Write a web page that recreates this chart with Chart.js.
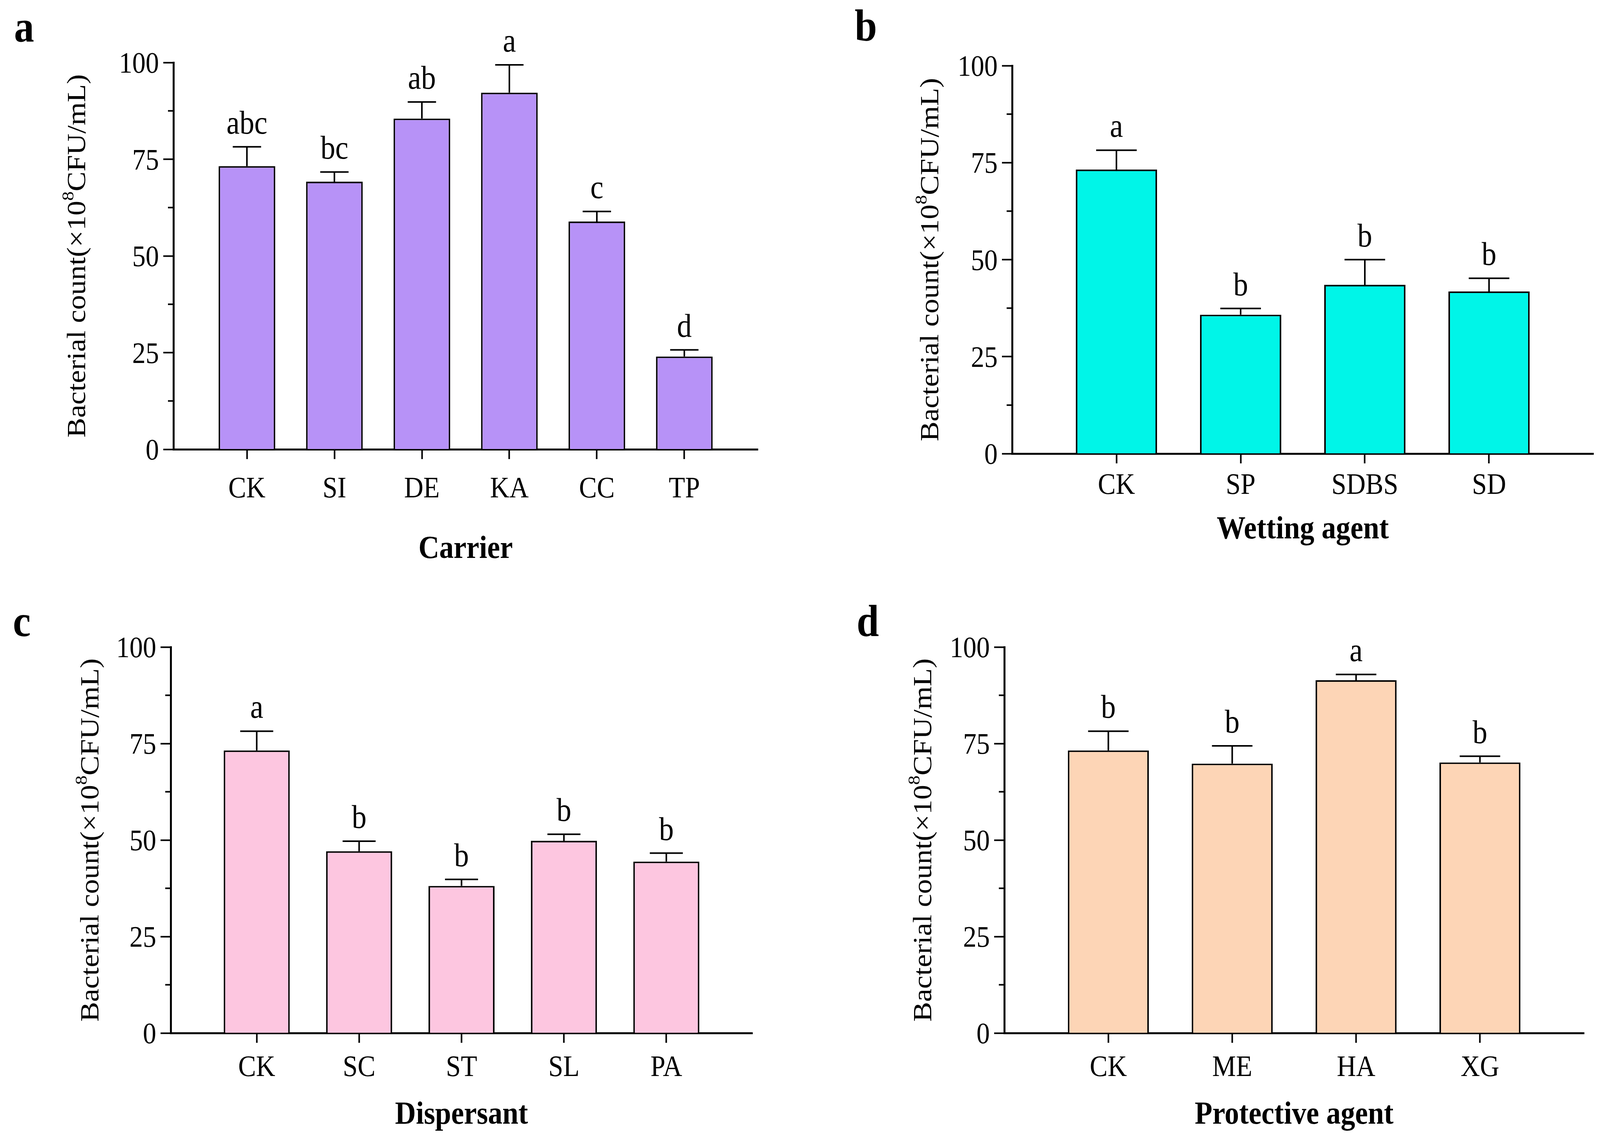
<!DOCTYPE html>
<html>
<head>
<meta charset="utf-8">
<title>Bacterial count by additive</title>
<script src="https://cdn.jsdelivr.net/npm/chart.js@4.4.1/dist/chart.umd.min.js"></script>
<style>
  html, body { margin: 0; padding: 0; background: #fff; overflow: hidden; }
  #wrap { position: relative; width: 4110px; height: 2928px; }
  .panel { position: absolute; width: 2055px; height: 1464px; }
  .panel canvas { display: block; }
</style>
</head>
<body>
<div id="wrap">
  <div class="panel" style="left:0;top:0"><canvas id="chartA" width="2055" height="1464"></canvas></div>
  <div class="panel" style="left:2055px;top:0"><canvas id="chartB" width="2055" height="1464"></canvas></div>
  <div class="panel" style="left:0;top:1464px"><canvas id="chartC" width="2055" height="1464"></canvas></div>
  <div class="panel" style="left:2055px;top:1464px"><canvas id="chartD" width="2055" height="1464"></canvas></div>
</div>
<script>
// Carrier
const carrierLabels = ['CK', 'SI', 'DE', 'KA', 'CC', 'TP'];
const carrierMeans = [73.2, 69.2, 85.5, 92.2, 58.9, 24.0];
const carrierErrors = [5.0, 2.5, 4.3, 7.2, 2.6, 1.7];
const carrierLetters = ['abc', 'bc', 'ab', 'a', 'c', 'd'];

// Wetting agent
const wettingLabels = ['CK', 'SP', 'SDBS', 'SD'];
const wettingMeans = [73.2, 35.8, 43.5, 41.8];
const wettingErrors = [5.0, 1.6, 6.5, 3.4];
const wettingLetters = ['a', 'b', 'b', 'b'];

// Dispersant
const dispersantLabels = ['CK', 'SC', 'ST', 'SL', 'PA'];
const dispersantMeans = [73.2, 47.1, 38.1, 49.8, 44.4];
const dispersantErrors = [5.0, 2.6, 1.7, 1.7, 2.2];
const dispersantLetters = ['a', 'b', 'b', 'b', 'b'];

// Protective agent
const protectiveLabels = ['CK', 'ME', 'HA', 'XG'];
const protectiveMeans = [73.2, 69.8, 91.4, 70.1];
const protectiveErrors = [5.0, 4.6, 1.5, 1.6];
const protectiveLetters = ['b', 'b', 'a', 'b'];

// y axis
const yTickLabels = [0, 25, 50, 75, 100];
const yMinorTicks = [12.5, 37.5, 62.5, 87.5];

const SERIF = '"Liberation Serif", "Times New Roman", serif';
const SQUEEZE = 0.9; // the original figure is a little narrower than tall
const SIDE = 0.84;   // empty room left of the first bar and right of the last, in bar slots

const panels = [
  { canvas: 'chartA', tag: 'a', tagPos: [36, 106], title: 'Carrier',
    labels: carrierLabels, means: carrierMeans, errors: carrierErrors, letters: carrierLetters,
    color: '#b792f7', area: [444, 160, 1940, 1150], barPct: 0.648,
    yTitleX: 197, labelY: 1273, titleY: 1428 },
  { canvas: 'chartB', tag: 'b', tagPos: [133, 104], title: 'Wetting agent',
    labels: wettingLabels, means: wettingMeans, errors: wettingErrors, letters: wettingLetters,
    color: '#00f5e8', area: [536, 168, 2024, 1161], barPct: 0.654,
    yTitleX: 326, labelY: 1264, titleY: 1378 },
  { canvas: 'chartC', tag: 'c', tagPos: [33, 164], title: 'Dispersant',
    labels: dispersantLabels, means: dispersantMeans, errors: dispersantErrors, letters: dispersantLetters,
    color: '#fdc6e0', area: [437, 192, 1926, 1180], barPct: 0.645,
    yTitleX: 231, labelY: 1290, titleY: 1412 },
  { canvas: 'chartD', tag: 'd', tagPos: [138, 164], title: 'Protective agent',
    labels: protectiveLabels, means: protectiveMeans, errors: protectiveErrors, letters: protectiveLetters,
    color: '#fdd5b6', area: [516, 192, 2000, 1180], barPct: 0.654,
    yTitleX: 308, labelY: 1290, titleY: 1412 }
];

// text helper, squeezed horizontally like the source figure
function drawText(ctx, text, x, y, font, align) {
  ctx.save();
  ctx.translate(x, y);
  ctx.scale(SQUEEZE, 1);
  ctx.font = font;
  ctx.textAlign = align;
  ctx.textBaseline = 'alphabetic';
  ctx.fillStyle = '#000';
  ctx.fillText(text, 0, 0);
  ctx.restore();
}

function drawYTitle(ctx, cx, cy) {
  const main = '76px ' + SERIF;
  const sup = '48px ' + SERIF;
  const part1 = 'Bacterial count(\u00d710';
  const part2 = '8';
  const part3 = 'CFU/mL)';
  ctx.save();
  ctx.translate(cx, cy);
  ctx.rotate(-Math.PI / 2);
  ctx.scale(1, SQUEEZE);
  ctx.fillStyle = '#000';
  ctx.textBaseline = 'alphabetic';
  ctx.textAlign = 'left';
  ctx.font = main;
  const w1 = ctx.measureText(part1).width;
  const w3 = ctx.measureText(part3).width;
  ctx.font = sup;
  const w2 = ctx.measureText(part2).width;
  let x = -(w1 + w2 + w3) / 2;
  const base = 23;
  ctx.font = main;
  ctx.fillText(part1, x, base);
  x += w1;
  ctx.font = sup;
  ctx.fillText(part2, x, base - 33);
  x += w2;
  ctx.font = main;
  ctx.fillText(part3, x, base);
  ctx.restore();
}

function makeOverlay(p) {
  return {
    id: 'overlay_' + p.tag,
    afterDatasetsDraw(chart) {
      const ctx = chart.ctx;
      const xs = chart.scales.x, ys = chart.scales.y;
      const bars = chart.getDatasetMeta(0).data;
      ctx.save();
      ctx.strokeStyle = '#000';
      ctx.lineWidth = 4;
      ctx.lineCap = 'butt';
      p.means.forEach((m, i) => {
        const px = xs.getPixelForValue(i);
        const y0 = ys.getPixelForValue(m);
        const y1 = ys.getPixelForValue(m + p.errors[i]);
        const cap = bars[i].width / 4;
        ctx.beginPath();
        ctx.moveTo(px, y0);
        ctx.lineTo(px, y1);
        ctx.moveTo(px - cap, y1);
        ctx.lineTo(px + cap, y1);
        ctx.stroke();
        drawText(ctx, p.letters[i], px, y1 - 34, '84px ' + SERIF, 'center');
      });
      ctx.restore();
    },
    afterDraw(chart) {
      const ctx = chart.ctx;
      const xs = chart.scales.x, ys = chart.scales.y;
      const left = chart.chartArea.left;
      // minor ticks on y
      ctx.save();
      ctx.strokeStyle = '#000';
      ctx.lineWidth = 4;
      yMinorTicks.forEach(v => {
        const py = ys.getPixelForValue(v);
        ctx.beginPath();
        ctx.moveTo(left - 14, py);
        ctx.lineTo(left, py);
        ctx.stroke();
      });
      ctx.restore();
      // y tick labels
      yTickLabels.forEach(v => {
        drawText(ctx, String(v), left - 37, ys.getPixelForValue(v) + 26, '76px ' + SERIF, 'right');
      });
      // category labels
      p.labels.forEach((lab, i) => {
        drawText(ctx, lab, xs.getPixelForValue(i), p.labelY, '76px ' + SERIF, 'center');
      });
      // x title
      const midX = (chart.chartArea.left + chart.chartArea.right) / 2;
      drawText(ctx, p.title, midX, p.titleY, 'bold 82px ' + SERIF, 'center');
      // y title
      drawYTitle(ctx, p.yTitleX, (chart.chartArea.top + chart.chartArea.bottom) / 2);
      // panel tag
      drawText(ctx, p.tag, p.tagPos[0], p.tagPos[1], 'bold 114px ' + SERIF, 'left');
    }
  };
}

panels.forEach(p => {
  const el = document.getElementById(p.canvas);
  const W = el.width, H = el.height;
  const [aL, aT, aR, aB] = p.area;
  new Chart(el, {
    type: 'bar',
    data: {
      datasets: [{
        data: p.means.map((m, i) => ({ x: i, y: m })),
        backgroundColor: p.color,
        borderColor: '#000',
        borderWidth: 4,
        borderSkipped: 'start',
        categoryPercentage: 1,
        barPercentage: p.barPct
      }]
    },
    options: {
      responsive: false,
      devicePixelRatio: 1,
      animation: false,
      events: [],
      layout: {
        padding: { left: aL - 100, top: aT, right: W - aR, bottom: H - aB - 100 }
      },
      plugins: {
        legend: { display: false },
        title: { display: false },
        tooltip: { enabled: false }
      },
      scales: {
        x: {
          type: 'linear',
          min: -SIDE,
          max: p.labels.length - 1 + SIDE,
          offset: false,
          z: 1,
          afterFit: axis => { axis.height = 100; },
          afterBuildTicks: axis => { axis.ticks = p.labels.map((_, i) => ({ value: i })); },
          ticks: { display: false },
          grid: {
            display: true, offset: false, drawOnChartArea: false, drawTicks: true,
            tickLength: 25, tickWidth: 4, tickColor: '#000', color: '#000'
          },
          border: { display: true, color: '#000', width: 5 }
        },
        y: {
          min: 0,
          max: 100,
          z: 1,
          afterFit: axis => { axis.width = 100; },
          afterBuildTicks: axis => { axis.ticks = yTickLabels.map(v => ({ value: v })); },
          ticks: { display: false },
          grid: {
            display: true, drawOnChartArea: false, drawTicks: true,
            tickLength: 26, tickWidth: 4, tickColor: '#000', color: '#000'
          },
          border: { display: true, color: '#000', width: 5 }
        }
      }
    },
    plugins: [makeOverlay(p)]
  });
});
</script>
</body>
</html>
